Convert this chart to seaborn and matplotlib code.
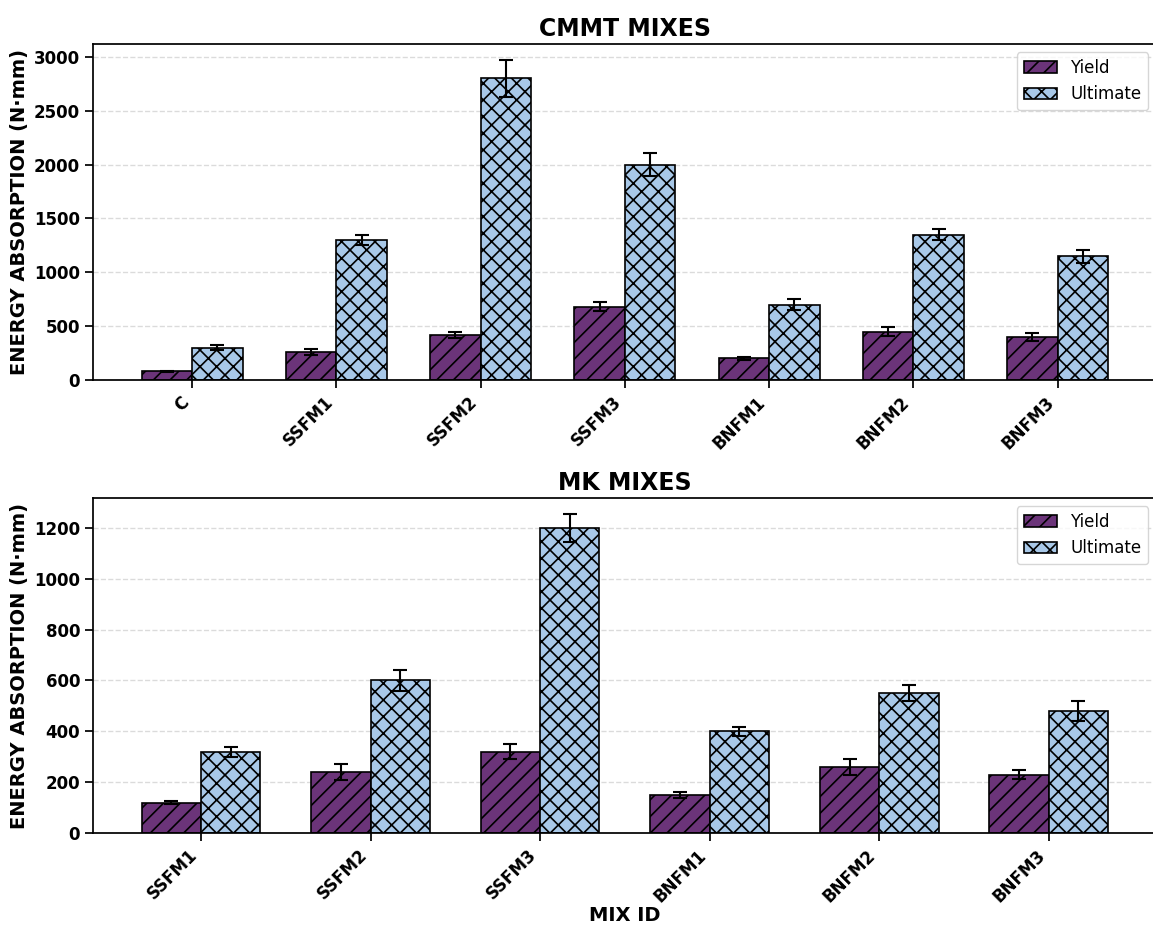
import numpy as np
import pandas as pd
import matplotlib
matplotlib.use('Agg')
import matplotlib.pyplot as plt
import seaborn as sns

# CMMT mixes
cmmt_mix = ['C', 'SSFM1', 'SSFM2', 'SSFM3', 'BNFM1', 'BNFM2', 'BNFM3']
cmmt_yield = [80, 260, 420, 680, 200, 450, 400]
cmmt_yield_err = [6, 25, 28, 40, 14, 42, 35]
cmmt_ult = [300, 1300, 2800, 2000, 700, 1350, 1150]
cmmt_ult_err = [25, 50, 170, 105, 50, 50, 60]

# MK mixes
mk_mix = ['SSFM1', 'SSFM2', 'SSFM3', 'BNFM1', 'BNFM2', 'BNFM3']
mk_yield = [120, 240, 320, 150, 260, 230]
mk_yield_err = [6, 30, 30, 12, 32, 18]
mk_ult = [320, 600, 1200, 400, 550, 480]
mk_ult_err = [20, 42, 55, 17, 32, 38]

series = ['Yield', 'Ultimate']
colors = ['#6b3479', '#a8c8e8']
hatches = ['//', 'xx']

sns.set_theme(context='notebook', style='ticks')
plt.rcParams['font.family'] = ['DejaVu Sans']
plt.rcParams['hatch.linewidth'] = 1.2
for k in ['text.color', 'axes.labelcolor', 'xtick.color', 'ytick.color', 'axes.edgecolor']:
    plt.rcParams[k] = 'black'


def make_df(mix, y, ye, u, ue):
    return pd.DataFrame({
        'mix': mix + mix,
        'value': y + u,
        'err': ye + ue,
        'type': ['Yield'] * len(mix) + ['Ultimate'] * len(mix),
    })


def draw(ax, df, mix, title, xlabel=None):
    sns.barplot(data=df, x='mix', y='value', hue='type', hue_order=series,
                order=mix, palette=colors, width=0.7, errorbar=None,
                edgecolor='black', linewidth=1.2, saturation=1,
                legend=False, ax=ax)
    for cont, h, s in zip(ax.containers, hatches, series):
        sub = df[df['type'] == s].set_index('mix').loc[mix]
        xs = []
        for bar in cont:
            bar.set_hatch(h)
            bar.set_edgecolor('black')
            xs.append(bar.get_x() + bar.get_width() / 2)
        ax.errorbar(xs, sub['value'].values, yerr=sub['err'].values,
                    fmt='none', ecolor='black', elinewidth=1.5,
                    capsize=5, capthick=1.5, zorder=5)
    n = len(mix)
    pad = 0.05 * (n - 1 + 0.7)
    ax.set_xlim(-0.35 - pad, n - 1 + 0.35 + pad)
    ax.set_ylim(bottom=0)
    ax.yaxis.grid(True, linestyle='--', color='#cccccc', alpha=0.7, linewidth=1)
    ax.set_axisbelow(True)
    ax.set_title(title, fontsize=17, fontweight='bold')
    ax.set_ylabel('ENERGY ABSORPTION (N·mm)', fontsize=14, fontweight='bold')
    ax.set_xlabel(xlabel if xlabel else '', fontsize=14, fontweight='bold',
                  labelpad=0)
    ax.set_xticks(range(n))
    ax.set_xticklabels(mix, rotation=45, ha='right',
                       fontsize=12, fontweight='bold')
    for t in ax.get_yticklabels():
        t.set_fontweight('bold')
        t.set_fontsize(12)
    ax.legend(ax.containers, series, loc='upper right', fontsize=12,
              frameon=True)


fig = plt.figure(figsize=(11.53, 9.26), dpi=100)
ax1 = fig.add_axes([0.081, 0.5896, 0.922, 0.3629])
ax2 = fig.add_axes([0.081, 0.1004, 0.922, 0.3618])

draw(ax1, make_df(cmmt_mix, cmmt_yield, cmmt_yield_err, cmmt_ult, cmmt_ult_err),
     cmmt_mix, 'CMMT MIXES')
draw(ax2, make_df(mk_mix, mk_yield, mk_yield_err, mk_ult, mk_ult_err),
     mk_mix, 'MK MIXES', 'MIX ID')

fig.savefig('out.png', dpi=100)
